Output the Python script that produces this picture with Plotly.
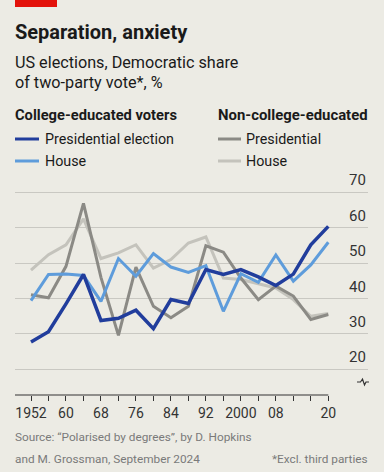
import plotly.graph_objects as go

# ---------------- data ----------------
years = [1952, 1956, 1960, 1964, 1968, 1972, 1976, 1980, 1984, 1988,
         1992, 1996, 2000, 2004, 2008, 2012, 2016, 2020]
college_pres = [27.7, 30.6, 38.5, 46.8, 33.8, 34.4, 36.7, 31.5, 39.7, 38.6,
                48.2, 46.8, 48.2, 46.1, 43.7, 46.9, 55.2, 60.4]
college_house = [39.4, 46.8, 46.9, 46.5, 39.2, 51.3, 46.3, 52.7, 48.9, 47.4,
                 49.3, 36.4, 47.0, 44.6, 52.3, 44.9, 49.5, 55.9]
noncollege_pres = [41.1, 40.2, 49.1, 66.9, 46.0, 29.6, 48.9, 37.8, 34.6, 37.8,
                   54.9, 53.1, 45.8, 39.7, 43.5, 40.7, 34.1, 35.5]
noncollege_house = [48.0, 52.4, 55.2, 62.5, 51.3, 52.9, 55.2, 48.6, 51.0, 55.7,
                    57.4, 45.8, 45.4, 44.2, 43.0, 39.7, 35.0, 35.8]
x_tick_labels = ["1952", "", "60", "", "68", "", "76", "", "84", "",
                 "92", "", "2000", "", "08", "", "", "20"]
y_ticks = [20, 30, 40, 50, 60, 70]

# ---------------- styling ----------------
W, H = 384, 472
L, R, T, B = 15, 16, 180, 77
BG = "#ecebe4"
DARK_BLUE = "#213d9c"
LIGHT_BLUE = "#5e9cdb"
DARK_GREY = "#8b8a85"
LIGHT_GREY = "#c4c3bc"
TEXT = "#1a1a1a"
FONT = "Roboto"

X_RANGE = [1948.34, 2029.08]
Y_RANGE = [12.74, 73.5]

pw = W - L - R
ph = H - T - B


def px_x(px):
    return (px - L) / pw


def px_y(py):
    return (H - B - py) / ph


fig = go.Figure()

series = [
    (noncollege_house, LIGHT_GREY, 3),
    (noncollege_pres, DARK_GREY, 3),
    (college_house, LIGHT_BLUE, 3),
    (college_pres, DARK_BLUE, 3.5),
]
for vals, col, w in series:
    fig.add_trace(go.Scatter(x=years, y=vals, mode="lines",
                             line=dict(color=col, width=w),
                             hoverinfo="skip", showlegend=False))

shapes = []
annotations = []

# red bar
shapes.append(dict(type="rect", xref="paper", yref="paper",
                   x0=px_x(15), x1=px_x(57), y0=px_y(0), y1=px_y(7),
                   fillcolor="#e3120b", line=dict(width=0), layer="above"))

# x axis baseline (to last data year)
shapes.append(dict(type="line", xref="x", yref="paper",
                   x0=X_RANGE[0], x1=years[-1], y0=0, y1=0,
                   line=dict(color="#333333", width=1.2)))

# axis break symbol
bx = [357, 360.5, 362.5, 364.5, 366, 369]
by = [382, 382, 379, 385, 382, 382]
path = "M " + " L ".join(f"{px_x(a):.5f},{px_y(b):.5f}" for a, b in zip(bx, by))
shapes.append(dict(type="path", xref="paper", yref="paper", path=path,
                   line=dict(color="#333333", width=1.2)))

# y tick labels above gridlines
for v in y_ticks:
    annotations.append(dict(x=1, y=v, xref="paper", yref="y", text=str(v),
                            showarrow=False, xanchor="right", yanchor="bottom",
                            yshift=1, font=dict(family=FONT, size=15, color="#333333")))

# title and subtitle
annotations.append(dict(x=px_x(13), y=px_y(32), xref="paper", yref="paper",
                        text="<b>Separation, anxiety</b>", showarrow=False,
                        xanchor="left", yanchor="middle",
                        font=dict(family=FONT, size=20, color=TEXT)))
annotations.append(dict(x=px_x(13), y=px_y(62), xref="paper", yref="paper",
                        text="US elections, Democratic share", showarrow=False,
                        xanchor="left", yanchor="middle",
                        font=dict(family=FONT, size=16.2, color=TEXT)))
annotations.append(dict(x=px_x(13), y=px_y(83), xref="paper", yref="paper",
                        text="of two-party vote*, %", showarrow=False,
                        xanchor="left", yanchor="middle",
                        font=dict(family=FONT, size=16.2, color=TEXT)))

# legend
annotations.append(dict(x=px_x(13), y=px_y(115), xref="paper", yref="paper",
                        text="<b>College-educated voters</b>", showarrow=False,
                        xanchor="left", yanchor="middle",
                        font=dict(family=FONT, size=14.7, color=TEXT)))
annotations.append(dict(x=px_x(216), y=px_y(115), xref="paper", yref="paper",
                        text="<b>Non-college-educated</b>", showarrow=False,
                        xanchor="left", yanchor="middle",
                        font=dict(family=FONT, size=14.9, color=TEXT)))
legend_items = [
    (15, 39, 43, 139, DARK_BLUE, "Presidential election"),
    (15, 39, 43, 161, LIGHT_BLUE, "House"),
    (218, 241, 244, 139, DARK_GREY, "Presidential"),
    (218, 241, 244, 161, LIGHT_GREY, "House"),
]
for x0, x1, tx, yy, col, label in legend_items:
    shapes.append(dict(type="line", xref="paper", yref="paper",
                       x0=px_x(x0), x1=px_x(x1), y0=px_y(yy), y1=px_y(yy),
                       line=dict(color=col, width=3)))
    annotations.append(dict(x=px_x(tx), y=px_y(yy), xref="paper", yref="paper",
                            text=label, showarrow=False, xanchor="left",
                            yanchor="middle",
                            font=dict(family=FONT, size=14.3, color=TEXT)))

# source and note
annotations.append(dict(x=px_x(13), y=px_y(437), xref="paper", yref="paper",
                        text="Source: “Polarised by degrees”, by D. Hopkins",
                        showarrow=False, xanchor="left", yanchor="middle",
                        font=dict(family=FONT, size=11.8, color="#7a7a7a")))
annotations.append(dict(x=px_x(13), y=px_y(459), xref="paper", yref="paper",
                        text="and M. Grossman, September 2024",
                        showarrow=False, xanchor="left", yanchor="middle",
                        font=dict(family=FONT, size=11.8, color="#7a7a7a")))
annotations.append(dict(x=px_x(370), y=px_y(459), xref="paper", yref="paper",
                        text="*Excl. third parties",
                        showarrow=False, xanchor="right", yanchor="middle",
                        font=dict(family=FONT, size=11.8, color="#7a7a7a")))

fig.update_layout(
    width=W, height=H,
    margin=dict(l=L, r=R, t=T, b=B, pad=0),
    paper_bgcolor=BG, plot_bgcolor=BG,
    showlegend=False,
    xaxis=dict(range=X_RANGE, tickvals=years, ticktext=x_tick_labels,
               ticks="outside", ticklen=5, tickwidth=1, tickcolor="#333333",
               showgrid=False, zeroline=False, showline=False,
               tickfont=dict(family=FONT, size=14, color="#333333"),
               fixedrange=True),
    yaxis=dict(range=Y_RANGE, tickvals=y_ticks, showticklabels=False,
               showgrid=True, gridcolor="#c9c8c2", gridwidth=1,
               zeroline=False, showline=False, ticks="", fixedrange=True),
    shapes=shapes,
    annotations=annotations,
)

fig.write_html(
    "out.html",
    config={"displayModeBar": False},
    post_script="document.body.style.margin='0px';"
                "document.body.style.background='" + BG + "';",
)
